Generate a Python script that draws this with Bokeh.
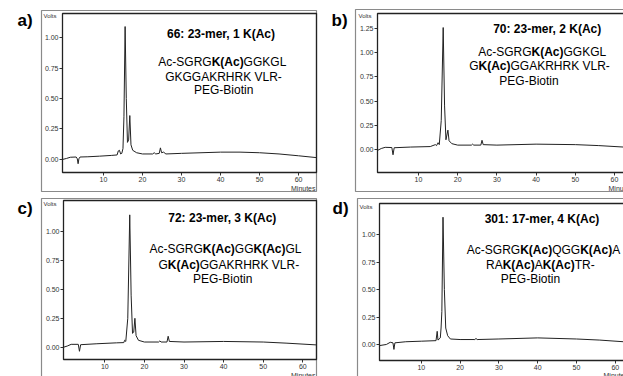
from bokeh.plotting import figure
from bokeh.models import Label, BoxAnnotation, FixedTicker, PrintfTickFormatter
from bokeh.layouts import column, row
from bokeh.embed import file_html
from bokeh.resources import INLINE

FONT = "Liberation Sans"

# ---------------- data ----------------
X_TICKS = [10, 20, 30, 40, 50, 60]
Y_TICKS_A = [0.0, 0.25, 0.5, 0.75, 1.0]
Y_TICKS_B = [0.0, 0.25, 0.5, 0.75, 1.0, 1.25]

A_T = [-0.5, 0.5, 1.5, 3.0, 3.3, 3.5, 3.7, 4.0, 6, 9, 12, 13.5, 13.8, 14.1, 14.4, 14.7, 15.0, 15.25,
       15.55, 15.85, 16.15, 16.45, 16.75, 17.05, 17.5, 18.5, 20, 22.6, 23.0, 23.4, 24.3, 24.6, 24.9,
       25.4, 26, 30, 35, 40, 45, 50, 55, 60, 64.6]
A_V = [0.0, 0.008, 0.018, 0.02, 0.005, -0.035, 0.005, 0.02, 0.022, 0.027, 0.033, 0.037, 0.07, 0.075,
       0.045, 0.05, 0.09, 0.35, 1.09, 0.5, 0.14, 0.16, 0.36, 0.12, 0.075, 0.055, 0.045, 0.045, 0.055,
       0.045, 0.05, 0.095, 0.055, 0.06, 0.045, 0.05, 0.055, 0.06, 0.06, 0.055, 0.045, 0.03, 0.015]

B_T = [-0.46, 0.5, 1.5, 3.2, 3.5, 3.8, 8, 13, 14.3, 14.6, 15.0, 15.3, 15.8, 16.3, 16.65, 17.0, 17.5,
       17.8, 18.5, 20, 23.5, 23.8, 24.1, 25.9, 26.2, 26.5, 30, 40, 50, 56, 62.3]
B_V = [-0.01, 0.01, 0.022, 0.02, -0.055, 0.018, 0.025, 0.03, 0.05, 0.04, 0.07, 0.05, 0.3, 1.26, 0.45,
       0.1, 0.2, 0.09, 0.06, 0.045, 0.045, 0.055, 0.045, 0.045, 0.095, 0.05, 0.045, 0.055, 0.05,
       0.04, 0.025]

C_T = [-0.43, 0.5, 1.5, 3.3, 3.6, 3.9, 8, 13, 14.8, 15.0, 15.3, 15.8, 16.3, 16.65, 17.0, 17.3, 17.6,
       17.9, 18.5, 20, 23.6, 23.9, 24.2, 25.7, 26.0, 26.3, 30, 40, 50, 56, 63.46]
C_V = [0.0, 0.01, 0.025, 0.025, -0.035, 0.022, 0.03, 0.038, 0.04, 0.06, 0.05, 0.25, 1.144, 0.45,
       0.12, 0.13, 0.25, 0.1, 0.06, 0.045, 0.045, 0.055, 0.045, 0.045, 0.095, 0.05, 0.045, 0.05,
       0.045, 0.035, 0.02]

D_T = [-0.77, 1.0, 2.0, 2.7, 2.95, 3.2, 6, 10, 13.8, 14.1, 14.3, 14.9, 15.1, 15.3, 15.6, 15.95, 16.3,
       16.8, 17.5, 20, 23.8, 24.1, 24.4, 30, 40, 50, 56, 62.1]
D_V = [-0.01, 0.0, 0.02, 0.015, -0.045, 0.015, 0.025, 0.03, 0.035, 0.12, 0.04, 0.06, 0.15, 0.3, 1.16,
       0.5, 0.15, 0.08, 0.05, 0.045, 0.045, 0.055, 0.045, 0.05, 0.06, 0.05, 0.04, 0.025]

TITLES = ["66: 23-mer, 1 K(Ac)", "70: 23-mer, 2 K(Ac)", "72: 23-mer, 3 K(Ac)", "301: 17-mer, 4 K(Ac)"]
LETTERS = ["a)", "b)", "c)", "d)"]
SEQ_A = [[("Ac-SGRG", 0), ("K(Ac)", 1), ("GGKGL", 0)],
         [("GKGGAKRHRK VLR-", 0)],
         [("PEG-Biotin", 0)]]
SEQ_B = [[("Ac-SGRG", 0), ("K(Ac)", 1), ("GGKGL", 0)],
         [("G", 0), ("K(Ac)", 1), ("GGAKRHRK VLR-", 0)],
         [("PEG-Biotin", 0)]]
SEQ_C = [[("Ac-SGRG", 0), ("K(Ac)", 1), ("GG", 0), ("K(Ac)", 1), ("GL", 0)],
         [("G", 0), ("K(Ac)", 1), ("GGAKRHRK VLR-", 0)],
         [("PEG-Biotin", 0)]]
SEQ_D = [[("Ac-SGRG", 0), ("K(Ac)", 1), ("QGG", 0), ("K(Ac)", 1), ("A", 0)],
         [("RA", 0), ("K(Ac)", 1), ("A", 0), ("K(Ac)", 1), ("TR-", 0)],
         [("PEG-Biotin", 0)]]

# Arial / Liberation Sans advance widths (1/1000 em)
REG = {'A': 667, 'B': 667, 'C': 722, 'D': 722, 'E': 667, 'F': 611, 'G': 778, 'H': 722, 'I': 278,
       'K': 667, 'L': 556, 'M': 833, 'N': 722, 'O': 778, 'P': 667, 'Q': 778, 'R': 722, 'S': 667,
       'T': 611, 'U': 722, 'V': 667, 'a': 556, 'c': 500, 'e': 556, 'i': 222, 'n': 556, 'o': 556,
       't': 278, ' ': 278, '-': 333, '(': 333, ')': 333}
BOLD = {'K': 722, 'A': 722, 'c': 556, '(': 333, ')': 333}


def tw(s, bold, size):
    tbl = BOLD if bold else REG
    return sum(tbl.get(ch, 556) for ch in s) * size / 1000.0


def make_panel(W, H, origin, inner, xr, yr, yticks, T, V, box, letter, letter_xy, volts_xy,
               minutes_xy, minutes_align, title, title_xy, seq, seq_xy):
    ox, oy = origin
    l, t, r, b = inner
    fl, ft, fr, fb = l - ox, t - oy, r - ox, b - oy
    x0, x1 = xr
    y0, y1 = yr
    sx = (x1 - x0) / (fr - fl)
    sy = (y1 - y0) / (fb - ft)
    X_range = (x0 - fl * sx, x0 + (W - fl) * sx)
    Y_range = (y1 - (H - ft) * sy, y1 + ft * sy)

    def to_data(px, py):
        return x0 + (px - ox - fl) * sx, y1 - (py - oy - ft) * sy

    p = figure(width=W, height=H, x_range=X_range, y_range=Y_range, output_backend="svg",
               toolbar_location=None, min_border=0, min_border_left=0, min_border_right=0,
               min_border_top=0, min_border_bottom=0)
    p.background_fill_color = "white"
    p.border_fill_color = "white"
    p.outline_line_color = None
    p.xgrid.visible = False
    p.ygrid.visible = False

    # axes drawn through Bokeh's own scales, fixed at the plotting area edges
    p.xaxis.fixed_location = y0
    p.yaxis.fixed_location = x0
    p.xaxis.bounds = (x0, x1)
    p.yaxis.bounds = (y0, y1)
    for ax in (p.xaxis[0], p.yaxis[0]):
        ax.axis_line_color = None
        ax.major_tick_in = 0
        ax.major_tick_out = 3
        ax.major_tick_line_color = "#333333"
        ax.major_tick_line_width = 1
        ax.minor_tick_line_color = None
        ax.major_label_text_font = FONT
        ax.major_label_text_font_size = "7px"
        ax.major_label_text_color = "#333333"
        ax.major_label_standoff = 1
    p.xaxis.ticker = FixedTicker(ticks=X_TICKS)
    p.yaxis.ticker = FixedTicker(ticks=yticks)
    p.yaxis.formatter = PrintfTickFormatter(format="%.2f")

    # outer panel box
    bl, bt, br, bb = box
    bx0, by0 = to_data(bl, bt)
    bx1, by1 = to_data(br, bb)
    p.add_layout(BoxAnnotation(left=bx0, right=bx1, top=by0, bottom=by1, fill_alpha=0,
                               line_color="#8a8a8a", line_width=1.2, line_alpha=1))
    # plotting-area frame
    p.add_layout(BoxAnnotation(left=x0, right=x1, top=y1, bottom=y0, fill_alpha=0,
                               line_color="#222222", line_width=1.3, line_alpha=1))

    p.line(T, V, line_color="#222222", line_width=1.0)

    def lab(px, py, text, size, bold=False, align="left", color="black"):
        x, y = to_data(px, py)
        p.add_layout(Label(x=x, y=y, text=text, text_font=FONT, text_font_size=f"{size}px",
                           text_font_style="bold" if bold else "normal", text_align=align,
                           text_baseline="middle", text_color=color))

    lab(letter_xy[0], letter_xy[1], letter, 17, bold=True)
    lab(volts_xy[0], volts_xy[1], "Volts", 6, color="#333333")
    lab(minutes_xy[0], minutes_xy[1], "Minutes", 7, align=minutes_align, color="#333333")
    lab(title_xy[0], title_xy[1], title, 12, bold=True, align="center")
    for segs, (cx, cy) in zip(seq, seq_xy):
        total = sum(tw(s, bb_, 12) for s, bb_ in segs)
        x = cx - total / 2.0
        for s, bb_ in segs:
            lab(x, cy, s, 12, bold=bool(bb_))
            x += tw(s, bb_, 12)
    return p


# all positions below are page pixels (styling only)
pa = make_panel(330, 195, (0, 0), (62, 13, 316, 172), (-0.5, 64.6), (-0.107, 1.197), Y_TICKS_A,
                A_T, A_V, (41, 10, 316, 191), LETTERS[0], (17, 20), (43, 15), (315, 188), "right",
                TITLES[0], (220.5, 33.3), SEQ_A, [(221.8, 61.7), (223, 76), (223.2, 89.3)])
pb = make_panel(293, 195, (330, 0), (377, 13, 631, 172), (-0.46, 64.34), (-0.238, 1.405), Y_TICKS_B,
                B_T, B_V, (355, 9, 631, 191), LETTERS[1], (331, 19.5), (358, 15), (608, 188), "left",
                TITLES[1], (546.7, 28.7), SEQ_B, [(541.7, 51.7), (539, 65.7), (528.5, 80)])
pc = make_panel(330, 181, (0, 195), (63, 200, 316, 359), (-0.43, 63.46), (-0.106, 1.268), Y_TICKS_A,
                C_T, C_V, (41, 198, 316, 380), LETTERS[2], (17, 208), (43, 203), (315, 375), "right",
                TITLES[2], (221.8, 217.3), SEQ_C, [(225, 248.7), (228.3, 264), (222.2, 278.7)])
pd = make_panel(293, 181, (330, 195), (379, 203, 631, 360), (-0.77, 64.18), (-0.146, 1.285), Y_TICKS_A,
                D_T, D_V, (357, 198, 631, 380), LETTERS[3], (332, 208), (359, 206), (603, 375), "left",
                TITLES[3], (541.5, 218.3), SEQ_D, [(543, 249.3), (539.8, 264), (530, 278.3)])

layout = column(row(pa, pb, spacing=0), row(pc, pd, spacing=0), spacing=0)
open("out.html", "w").write(file_html(layout, INLINE))
